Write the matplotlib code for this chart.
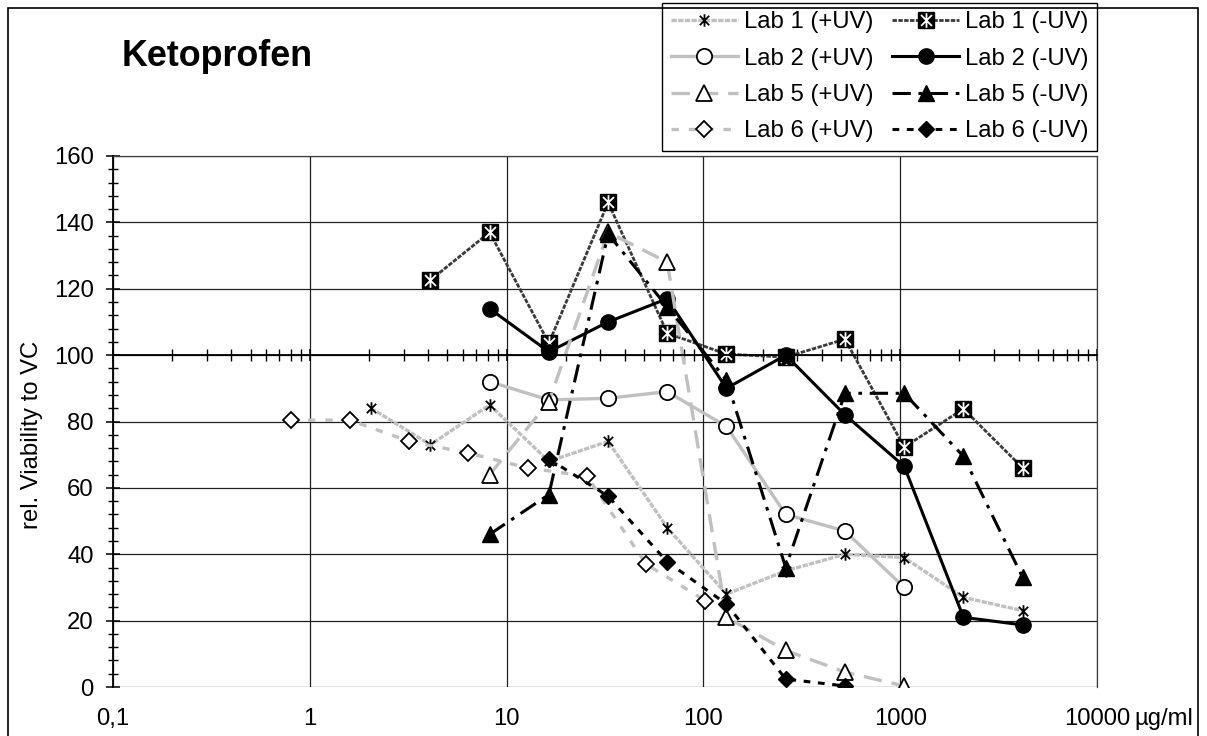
"""
Ketoprofen - relative viability vs concentration (log x), 4 labs +/- UV.
"""

import matplotlib
matplotlib.use("Agg")
import matplotlib.pyplot as plt
from matplotlib.path import Path
from matplotlib.patches import Rectangle
from matplotlib.ticker import LogLocator, MultipleLocator, NullFormatter, NullLocator
from matplotlib.legend_handler import HandlerTuple

plt.rcParams["font.family"] = ["Liberation Sans", "DejaVu Sans"]

# --- data ---
conc_lab1_plus = [2.05, 4.1, 8.2, 16.4, 32.8, 65.5, 131, 262, 524, 1048, 2096, 4192]
lab1_plus = [84, 73, 85, 68, 74, 48, 28, 35, 40, 39, 27, 23]

conc_lab1_minus = [4.1, 8.2, 16.4, 32.8, 65.5, 131, 262, 524, 1048, 2096, 4192]
lab1_minus = [122.6, 137, 103.6, 146, 106.6, 100.3, 99.4, 104.8, 72.3, 83.8, 66]

conc_lab2_plus = [8.2, 16.4, 32.8, 65.5, 131, 262, 524, 1048]
lab2_plus = [92, 86.5, 87, 89, 78.5, 52, 47, 30]

conc_lab2_minus = [8.2, 16.4, 32.8, 65.5, 131, 262, 524, 1048, 2096, 4192]
lab2_minus = [114, 101, 110, 117, 90, 100, 82, 66.5, 21, 18.7]

conc_lab5_plus = [8.2, 16.4, 32.8, 65.5, 131, 262, 524, 1048]
lab5_plus = [64, 86, 137, 128, 21, 11, 4.5, 0.3]

conc_lab5_minus = [8.2, 16.4, 32.8, 65.5, 131, 262, 524, 1048, 2096, 4192]
lab5_minus = [46, 58, 136.5, 114.5, 92.5, 36, 88.5, 88.5, 69.5, 33]

conc_lab6_plus = [0.8, 1.6, 3.2, 6.4, 12.8, 25.6, 51.2, 102.4]
lab6_plus = [80.4, 80.4, 74, 70.5, 66, 63.5, 37, 26]

conc_lab6_minus = [16.4, 32.8, 65.5, 131, 262, 524]
lab6_minus = [68.7, 57.5, 37.7, 25, 2.4, 0.3]

x_ticks = [0.1, 1, 10, 100, 1000, 10000]
x_tick_labels = ["0,1", "1", "10", "100", "1000", "10000"]

LIGHT = "#c0c0c0"
FS = 17.2

# asterisk marker (X + vertical bar), as in Excel
star = Path(
    [(0, -1), (0, 1), (-0.75, -0.75), (0.75, 0.75), (-0.75, 0.75), (0.75, -0.75)],
    [Path.MOVETO, Path.LINETO, Path.MOVETO, Path.LINETO, Path.MOVETO, Path.LINETO],
)

fig = plt.figure(figsize=(12.07, 7.36), dpi=100)
ax = fig.add_axes([113 / 1207, 49 / 736, 984 / 1207, 531 / 736])

# series, in the drawing order of the original chart
l1p, = ax.plot(conc_lab1_plus, lab1_plus, color=LIGHT, lw=2.4, ls=(0, (1.6, 0.4)),
               marker=star, ms=9, mec="black", mfc="none", mew=1.3)
l1m_line, = ax.plot(conc_lab1_minus, lab1_minus, color="#3a3a3a", lw=2.0, ls=(0, (1.6, 0.5)),
                    marker="s", ms=12, mec="black", mfc="black")
l1m_star, = ax.plot(conc_lab1_minus, lab1_minus, ls="none",
                    marker=star, ms=10.5, mec="white", mfc="none", mew=1.3)
l2p, = ax.plot(conc_lab2_plus, lab2_plus, color=LIGHT, lw=2.4,
               marker="o", ms=11, mec="black", mfc="white", mew=1.3)
l2m, = ax.plot(conc_lab2_minus, lab2_minus, color="black", lw=2.2,
               marker="o", ms=11, mec="black", mfc="black")
l5p, = ax.plot(conc_lab5_plus, lab5_plus, color=LIGHT, lw=2.4, ls=(0, (5.5, 3)),
               marker="^", ms=11.5, mec="black", mfc="white", mew=1.3)
l5m, = ax.plot(conc_lab5_minus, lab5_minus, color="black", lw=2.2, ls=(0, (6, 2.5, 1.2, 2.5)),
               marker="^", ms=11.5, mec="black", mfc="black")
l6p, = ax.plot(conc_lab6_plus, lab6_plus, color=LIGHT, lw=2.4, ls=(0, (2.2, 3)),
               marker="D", ms=8, mec="black", mfc="white", mew=1.3)
l6m, = ax.plot(conc_lab6_minus, lab6_minus, color="black", lw=2.2, ls=(0, (2.2, 2.5)),
               marker="D", ms=8, mec="black", mfc="black")

# axes setup
ax.set_xscale("log")
ax.set_xlim(0.1, 10000)
ax.set_ylim(0, 160)

ax.yaxis.set_major_locator(MultipleLocator(20))
ax.yaxis.set_minor_locator(MultipleLocator(4))
ax.xaxis.set_major_locator(LogLocator(base=10, numticks=10))
ax.xaxis.set_minor_locator(LogLocator(base=10, subs=range(2, 10), numticks=20))
ax.xaxis.set_minor_formatter(NullFormatter())

ax.grid(True, which="major", color="#202020", lw=0.9)
ax.set_axisbelow(True)

# horizontal axis crosses at 100, labels stay at the bottom
ax.spines["bottom"].set_position(("data", 100))
ax.spines["bottom"].set_linewidth(1.3)
ax.spines["left"].set_linewidth(1.3)
for side in ("top", "right"):
    ax.spines[side].set_color("#404040")
    ax.spines[side].set_linewidth(0.9)

ax.tick_params(axis="x", which="major", direction="inout", length=9, width=1.1, labelbottom=False)
ax.tick_params(axis="x", which="minor", direction="inout", length=8, width=1.0)
ax.tick_params(axis="y", which="major", direction="inout", length=10, width=1.1,
               labelsize=FS, pad=9)
ax.tick_params(axis="y", which="minor", direction="inout", length=7, width=1.0)

sec = ax.secondary_xaxis(0)
sec.set_xticks(x_ticks)
sec.set_xticklabels(x_tick_labels)
sec.xaxis.set_minor_locator(NullLocator())
sec.tick_params(axis="x", which="both", length=0, labelsize=FS, pad=15)
sec.spines["bottom"].set_visible(False)

ax.annotate("µg/ml", xy=(10000, 0), xytext=(27, -15), textcoords="offset points",
            ha="left", va="top", fontsize=FS, annotation_clip=False)

# texts
fig.text(122 / 1207, 1 - 57 / 736, "Ketoprofen", fontsize=25.8, fontweight="bold",
         ha="left", va="center")
fig.text(32 / 1207, 1 - 435 / 736, "rel. Viability to VC", fontsize=FS,
         rotation=90, ha="center", va="center")

# legend: +UV in the first column, -UV in the second
handles = [l1p, l2p, l5p, l6p, (l1m_line, l1m_star), l2m, l5m, l6m]
labels = ["Lab 1 (+UV)", "Lab 2 (+UV)", "Lab 5 (+UV)", "Lab 6 (+UV)",
          "Lab 1 (-UV)", "Lab 2 (-UV)", "Lab 5 (-UV)", "Lab 6 (-UV)"]
leg = ax.legend(handles, labels, ncol=2, loc="upper right",
                bbox_to_anchor=(1097 / 1207, 1 - 3 / 736), bbox_transform=fig.transFigure,
                borderaxespad=0, fontsize=FS, frameon=True, fancybox=False,
                edgecolor="black", framealpha=1, handlelength=2.8, handletextpad=0.25,
                columnspacing=0.8, labelspacing=0.6, borderpad=0.35,
                handler_map={tuple: HandlerTuple(ndivide=1, pad=0)})
leg.get_frame().set_linewidth(1.0)

# outer chart border
fig.patches.append(Rectangle((8 / 1207, -0.1), 1190 / 1207, 1.1 - 8 / 736,
                             transform=fig.transFigure, fill=False, edgecolor="black",
                             lw=1.2, zorder=5))

fig.savefig("out.png", dpi=100)
